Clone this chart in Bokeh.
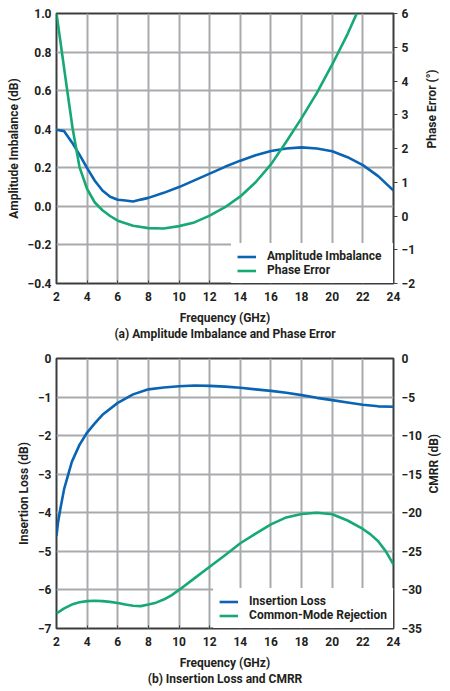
import math
from bokeh.plotting import figure
from bokeh.models import (Range1d, LinearAxis, FixedTicker, CustomJSTickFormatter,
                          Legend, LegendItem, Title)
from bokeh.layouts import column
from bokeh.embed import file_html
from bokeh.resources import INLINE

# ---------------- data ----------------
amp_freq = [2, 2.5, 3, 3.5, 4, 4.5, 5, 5.5, 6, 6.5, 7, 7.5, 8, 9, 10, 11, 12, 13, 14,
            15, 16, 17, 18, 19, 20, 21, 22, 23, 24]
amp_imb = [0.397, 0.39, 0.333, 0.268, 0.198, 0.133, 0.082, 0.05, 0.034, 0.03, 0.025,
           0.035, 0.044, 0.07, 0.10, 0.135, 0.17, 0.205, 0.237, 0.265, 0.287, 0.30,
           0.306, 0.30, 0.286, 0.255, 0.214, 0.157, 0.082]

ph_freq = [2, 2.35, 2.7, 3.05, 3.5, 4, 4.5, 5, 5.5, 6, 7, 8, 9, 10, 11, 12, 13, 14, 15,
           16, 17, 18, 19, 20, 21, 21.6]
ph_err = [6.0, 4.86, 3.72, 2.6, 1.45, 0.8, 0.4, 0.17, 0.0, -0.14, -0.29, -0.36, -0.37,
          -0.3, -0.19, 0.01, 0.26, 0.58, 1.0, 1.53, 2.2, 2.9, 3.65, 4.49, 5.39, 6.0]

il_freq = [2, 2.1, 2.25, 2.5, 3, 3.5, 4, 4.5, 5, 6, 7, 8, 9, 10, 11, 12, 13, 14, 15, 16,
           17, 18, 19, 20, 21, 22, 23, 24]
ins_loss = [-4.6, -4.25, -3.9, -3.38, -2.68, -2.24, -1.92, -1.68, -1.46, -1.15, -0.93,
            -0.80, -0.75, -0.72, -0.70, -0.71, -0.73, -0.76, -0.80, -0.84, -0.89, -0.95,
            -1.02, -1.08, -1.14, -1.20, -1.24, -1.25]

cm_freq = [2, 2.5, 3, 3.5, 4, 4.5, 5, 5.5, 6, 6.5, 7, 7.5, 8, 8.5, 9, 9.5, 10, 11, 12,
           13, 14, 15, 16, 17, 18, 19, 20, 21, 22, 22.5, 23, 23.5, 24]
cmrr = [-33.06, -32.4, -31.9, -31.6, -31.45, -31.4, -31.45, -31.55, -31.7, -31.9, -32.05,
        -32.1, -31.9, -31.65, -31.25, -30.7, -30.0, -28.5, -27.0, -25.5, -23.95, -22.7,
        -21.5, -20.6, -20.15, -20.0, -20.2, -21.0, -22.1, -22.8, -23.7, -25.0, -26.7]

freq_ticks = [2, 4, 6, 8, 10, 12, 14, 16, 18, 20, 22, 24]
amp_ticks = [-0.4, -0.2, 0.0, 0.2, 0.4, 0.6, 0.8, 1.0]
ph_ticks = [-2, -1, 0, 1, 2, 3, 4, 5, 6]
il_ticks = [0, -1, -2, -3, -4, -5, -6, -7]
cm_ticks = [0, -5, -10, -15, -20, -25, -30, -35]

labels_a = ["Amplitude Imbalance", "Phase Error"]
labels_b = ["Insertion Loss", "Common-Mode Rejection"]

# ---------------- style ----------------
BLUE = "#0a64b4"
GREEN = "#17a974"
TXT = "#231f20"
GRID = "#a8aaae"
FONT = "Roboto"
FS = "12px"

fmt1 = CustomJSTickFormatter(code="return tick.toFixed(1).replace('-', '\u2212');")
fmt0 = CustomJSTickFormatter(code="return tick.toFixed(0).replace('-', '\u2212');")


def style_axis(ax):
    ax.axis_line_color = None
    ax.minor_tick_line_color = None
    ax.major_tick_line_color = "#404040"
    ax.major_tick_line_width = 1
    ax.major_tick_in = 0
    ax.major_tick_out = 0
    ax.major_label_text_font = FONT
    ax.major_label_text_font_style = "bold"
    ax.major_label_text_font_size = FS
    ax.major_label_text_color = TXT
    ax.axis_label_text_font = FONT
    ax.axis_label_text_font_style = "bold"
    ax.axis_label_text_font_size = FS
    ax.axis_label_text_color = TXT


def make_fig(h, top, bottom, yr, yticks, yfmt, ylabel, ry, rticks, rfmt, rlabel,
             subtitle, right_ticks_out, r_standoff):
    p = figure(width=450, height=h, output_backend="svg", toolbar_location=None,
               x_range=Range1d(2, 24), y_range=Range1d(*yr),
               min_border_left=56, min_border_right=56,
               min_border_top=top, min_border_bottom=bottom)
    p.extra_y_ranges = {"r": Range1d(*ry)}
    p.outline_line_color = "#3c3c3c"
    p.outline_line_width = 2

    xa = p.xaxis[0]
    style_axis(xa)
    xa.ticker = FixedTicker(ticks=freq_ticks)
    xa.major_tick_in = 3
    xa.major_label_standoff = 8
    xa.axis_label = "Frequency (GHz)"
    xa.axis_label_standoff = 7

    ya = p.yaxis[0]
    style_axis(ya)
    ya.ticker = FixedTicker(ticks=yticks)
    ya.formatter = yfmt
    ya.major_label_standoff = 5
    ya.axis_label = ylabel
    ya.axis_label_standoff = 4

    ra = LinearAxis(y_range_name="r")
    style_axis(ra)
    ra.ticker = FixedTicker(ticks=rticks)
    ra.formatter = rfmt
    ra.major_tick_out = right_ticks_out
    ra.major_label_standoff = 8 - right_ticks_out
    ra.axis_label = rlabel
    ra.axis_label_standoff = r_standoff
    ra.axis_label_orientation = math.pi / 2
    p.add_layout(ra, "right")

    p.xgrid.ticker = FixedTicker(ticks=freq_ticks)
    p.ygrid.ticker = FixedTicker(ticks=yticks)
    for g in (p.xgrid[0], p.ygrid[0]):
        g.grid_line_color = GRID
        g.grid_line_width = 2

    t = Title(text=subtitle, align="center", text_font=FONT, text_font_style="bold",
              text_font_size=FS, text_color=TXT, standoff=-5, offset=0)
    p.add_layout(t, "below")
    return p


pa = make_fig(345, 13, 62, (-0.4, 1.0), amp_ticks, fmt1, "Amplitude Imbalance (dB)",
              (-2, 6), ph_ticks, fmt0, "Phase Error (°)",
              "(a) Amplitude Imbalance and Phase Error", 4, 14)
ra1 = pa.line(amp_freq, amp_imb, line_color=BLUE, line_width=2.6, line_join="round")
ra2 = pa.line(ph_freq, ph_err, line_color=GREEN, line_width=2.6, line_join="round",
              y_range_name="r")

pb = make_fig(345, 13, 62, (-7, 0), il_ticks, fmt0, "Insertion Loss (dB)",
              (-35, 0), cm_ticks, fmt0, "CMRR (dB)",
              "(b) Insertion Loss and CMRR", 0, 9)
rb1 = pb.line(il_freq, ins_loss, line_color=BLUE, line_width=2.6, line_join="round")
rb2 = pb.line(cm_freq, cmrr, line_color=GREEN, line_width=2.6, line_join="round",
              y_range_name="r")


def add_legend(p, rends, labels, lw):
    lg = Legend(items=[LegendItem(label=l, renderers=[r]) for l, r in zip(labels, rends)],
                location="bottom_right", margin=0, padding=6, spacing=0,
                label_height=13, glyph_height=13, glyph_width=19, label_standoff=11,
                label_width=lw,
                background_fill_color="white", background_fill_alpha=1.0,
                border_line_alpha=0, label_text_font=FONT,
                label_text_font_style="bold", label_text_font_size=FS,
                label_text_color=TXT)
    p.add_layout(lg, "center")


add_legend(pa, [ra1, ra2], labels_a, 120)
add_legend(pb, [rb1, rb2], labels_b, 20)

layout = column(pa, pb, spacing=0)
open("out.html", "w").write(file_html(layout, INLINE))
